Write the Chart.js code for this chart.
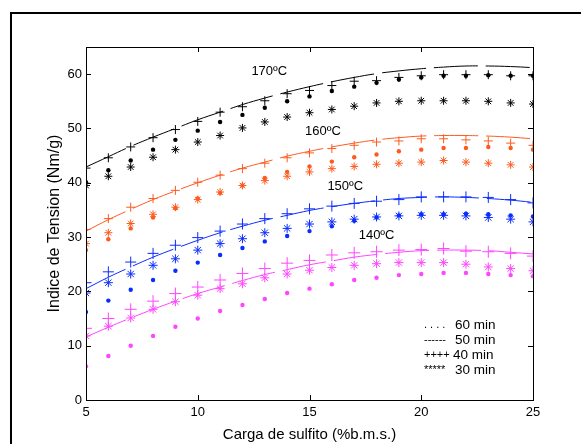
<!DOCTYPE html>
<html>
<head>
<meta charset="utf-8">
<script src="https://cdn.jsdelivr.net/npm/chart.js@4/dist/chart.umd.min.js"></script>
<style>
  body { margin: 0; background: #fff; }
  canvas { display: block; }
</style>
</head>
<body>
<canvas id="canvas" width="581" height="444"></canvas>
<script>
// carga de sulfito (%b.m.s.)
var carga = [5, 6, 7, 8, 9, 10, 11, 12, 13, 14, 15, 16, 17, 18, 19, 20, 21, 22, 23, 24, 25];
var xTicks = [5, 10, 15, 20, 25];
var yTicks = [0, 10, 20, 30, 40, 50, 60];

// 170 C
var t170_60 = [40.1, 42.3, 44.1, 46.1, 47.9, 49.6, 51.2, 52.5, 53.8, 55.0, 55.9, 56.9, 57.7, 58.4, 59.0, 59.4, 59.7, 59.7, 59.8, 59.7, 59.7];
var t170_50 = [42.9, 44.8, 46.7, 48.4, 50.0, 51.6, 53.0, 54.4, 55.6, 56.7, 57.7, 58.6, 59.4, 60.1, 60.6, 61.0, 61.3, 61.5, 61.5, 61.4, 61.2];
var t170_40 = [42.7, 44.6, 46.6, 48.3, 49.8, 51.3, 53.0, 54.0, 55.1, 56.4, 57.0, 57.9, 58.7, 58.8, 59.4, 59.7, 59.9, 59.9, 59.9, 59.7, 59.7];
var t170_30 = [39.5, 41.2, 42.9, 44.7, 46.1, 47.5, 48.7, 50.1, 51.2, 52.1, 52.9, 53.5, 54.1, 54.7, 55.0, 55.1, 55.1, 55.1, 55.0, 54.7, 54.5];

// 160 C
var t160_60 = [27.6, 29.6, 31.6, 33.6, 35.3, 37.1, 38.1, 39.5, 40.9, 42.0, 43.0, 43.9, 44.7, 45.2, 45.8, 46.1, 46.4, 46.4, 46.6, 46.4, 46.1];
var t160_50 = [31.1, 33.2, 35.1, 36.9, 38.5, 40.0, 41.4, 42.7, 43.8, 44.9, 45.8, 46.6, 47.3, 47.9, 48.3, 48.6, 48.7, 48.7, 48.6, 48.4, 48.1];
var t160_40 = [31.4, 33.4, 35.5, 37.1, 38.6, 40.1, 41.4, 42.6, 43.6, 44.6, 45.5, 46.3, 46.9, 47.5, 47.7, 48.1, 48.1, 47.9, 47.7, 47.3, 46.9];
var t160_30 = [28.8, 30.8, 32.5, 34.2, 35.5, 36.9, 38.3, 39.5, 40.4, 41.2, 42.0, 42.6, 43.0, 43.4, 43.6, 43.8, 44.1, 43.8, 43.6, 43.3, 42.9];

// 150 C
var t150_60 = [16.2, 18.3, 20.3, 22.1, 23.8, 25.3, 26.7, 28.0, 29.2, 30.2, 31.1, 32.0, 33.0, 33.6, 34.0, 34.2, 34.2, 34.3, 34.2, 34.0, 33.8];
var t150_50 = [20.5, 22.6, 24.5, 26.3, 27.9, 29.4, 30.8, 32.0, 33.1, 34.0, 34.9, 35.6, 36.2, 36.7, 37.1, 37.3, 37.4, 37.3, 37.1, 36.8, 36.4];
var t150_40 = [21.6, 23.6, 25.4, 27.0, 28.5, 29.9, 31.1, 32.4, 33.4, 34.3, 35.2, 35.7, 36.2, 36.6, 36.9, 37.4, 37.4, 37.4, 37.3, 36.9, 36.3];
var t150_30 = [19.7, 21.6, 23.2, 24.8, 26.0, 27.6, 28.8, 29.7, 30.8, 31.6, 32.4, 32.8, 33.3, 33.7, 33.9, 34.0, 34.0, 33.9, 33.6, 33.3, 32.8];

// 140 C
var t140_60 = [6.2, 8.1, 10.0, 11.8, 13.5, 15.0, 16.4, 17.5, 18.6, 19.7, 20.5, 21.3, 22.1, 22.5, 23.0, 23.2, 23.4, 23.4, 23.2, 23.0, 22.8];
var t140_50 = [11.6, 13.4, 15.1, 16.7, 18.2, 19.6, 20.8, 22.0, 23.1, 24.0, 24.9, 25.6, 26.3, 26.8, 27.2, 27.5, 27.6, 27.6, 27.5, 27.2, 26.9];
var t140_40 = [13.2, 15.0, 16.7, 18.2, 19.6, 20.8, 22.1, 23.3, 24.2, 25.2, 25.7, 26.7, 27.1, 27.3, 27.6, 27.7, 27.9, 27.4, 27.3, 27.0, 26.5];
var t140_30 = [11.8, 13.6, 15.1, 16.7, 18.1, 19.3, 20.5, 21.4, 22.5, 23.2, 23.9, 24.4, 24.8, 25.1, 25.3, 25.3, 25.3, 25.0, 24.5, 24.2, 23.8];

var tempLabels = ['170ºC', '160ºC', '150ºC', '140ºC'];
var tempLabelAt = [[12.4, 60.5], [14.8, 49.5], [15.8, 39.3], [17.2, 30.3]];
var legendMarks = ['. . . .', '------', '++++', '*****'];
var legendLabels = ['60 min', '50 min', '40 min', '30 min'];

var colors = ['#000000', '#ff5a1e', '#0a2cff', '#ff45ff'];
var groups = [
  [t170_60, t170_50, t170_40, t170_30],
  [t160_60, t160_50, t160_40, t160_30],
  [t150_60, t150_50, t150_40, t150_30],
  [t140_60, t140_50, t140_40, t140_30]
];
var crossSize = [4.5, 4.5, 5.5, 6];
var starSize = [4, 4, 4.5, 4.5];

function pts(arr) {
  return arr.map(function (v, i) { return { x: carga[i], y: v }; });
}

var datasets = [];
groups.forEach(function (g, k) {
  var c = colors[k];
  datasets.push({ label: '50 min', data: pts(g[1]), showLine: true, borderColor: c, borderWidth: 1,
    borderDash: [44, 8], pointRadius: 0, tension: 0.4 });
  datasets.push({ label: '60 min', data: pts(g[0]), pointStyle: 'circle', pointRadius: 2.2,
    backgroundColor: c, borderColor: c, borderWidth: 0 });
  datasets.push({ label: '40 min', data: pts(g[2]), pointStyle: 'cross', pointRadius: crossSize[k],
    borderColor: c, borderWidth: 1 });
  datasets.push({ label: '30 min', data: pts(g[3]), pointStyle: 'star', pointRadius: starSize[k],
    borderColor: c, borderWidth: 1 });
});

var frame = {
  id: 'frame',
  afterDraw: function (chart) {
    var ctx = chart.ctx, a = chart.chartArea;
    var xs = chart.scales.x, ys = chart.scales.y;
    ctx.save();
    // outer figure border
    ctx.fillStyle = '#000';
    ctx.fillRect(10, 12, 571, 2);
    ctx.fillRect(10, 12, 2, 432);
    // axes box
    ctx.strokeStyle = '#000';
    ctx.lineWidth = 1;
    ctx.strokeRect(a.left + 0.5, a.top + 0.5, a.right - a.left, a.bottom - a.top);
    // inward ticks
    ctx.beginPath();
    xTicks.forEach(function (v) {
      var px = Math.round(xs.getPixelForValue(v)) + 0.5;
      ctx.moveTo(px, a.bottom); ctx.lineTo(px, a.bottom - 5);
      ctx.moveTo(px, a.top); ctx.lineTo(px, a.top + 5);
    });
    yTicks.forEach(function (v) {
      var py = Math.round(ys.getPixelForValue(v)) + 0.5;
      ctx.moveTo(a.left, py); ctx.lineTo(a.left + 5, py);
      ctx.moveTo(a.right, py); ctx.lineTo(a.right - 5, py);
    });
    ctx.stroke();
    // temperature labels
    ctx.fillStyle = '#000';
    ctx.font = '13px "Liberation Sans", Arial, sans-serif';
    ctx.textBaseline = 'middle';
    tempLabels.forEach(function (t, i) {
      ctx.fillText(t, xs.getPixelForValue(tempLabelAt[i][0]), ys.getPixelForValue(tempLabelAt[i][1]));
    });
    // legend text
    ctx.font = '11px "Liberation Sans", Arial, sans-serif';
    legendMarks.forEach(function (t, i) {
      ctx.fillText(t, 424, 325 + i * 15);
    });
    ctx.font = '13.5px "Liberation Sans", Arial, sans-serif';
    legendLabels.forEach(function (t, i) {
      ctx.fillText(t, i == 2 ? 453 : 455, 325 + i * 15);
    });
    ctx.restore();
  }
};

var ctx = document.getElementById('canvas').getContext('2d');
var config = {
  type: 'scatter',
  data: { datasets: datasets },
  options: {
    responsive: false,
    animation: false,
    layout: { padding: { left: 0, top: 47, right: 48, bottom: 0 } },
    plugins: { legend: { display: false }, tooltip: { enabled: false } },
    scales: {
      x: {
        type: 'linear', min: 5, max: 25,
        afterBuildTicks: function (s) { s.ticks = xTicks.map(function (v) { return { value: v }; }); },
        afterFit: function (s) { s.height = 44; },
        grid: { display: false, drawTicks: false },
        border: { display: false },
        ticks: { color: '#000', padding: 5, maxRotation: 0, font: { family: '"Liberation Sans", Arial', size: 13 } },
        title: { display: true, text: 'Carga de sulfito (%b.m.s.)', color: '#000', padding: { top: 0, bottom: 0 },
          font: { family: '"Liberation Sans", Arial', size: 15 } }
      },
      y: {
        type: 'linear', min: 0, max: 65,
        afterBuildTicks: function (s) { s.ticks = yTicks.map(function (v) { return { value: v }; }); },
        afterFit: function (s) { s.width = 86; },
        grid: { display: false, drawTicks: false },
        border: { display: false },
        ticks: { color: '#000', padding: 4, font: { family: '"Liberation Sans", Arial', size: 13 } },
        title: { display: true, text: 'Indice de Tension (Nm/g)', color: '#000', padding: { top: 45, bottom: 4 },
          font: { family: '"Liberation Sans", Arial', size: 16 } }
      }
    }
  },
  plugins: [frame]
};
var chart = new Chart(ctx, config);
</script>
</body>
</html>
